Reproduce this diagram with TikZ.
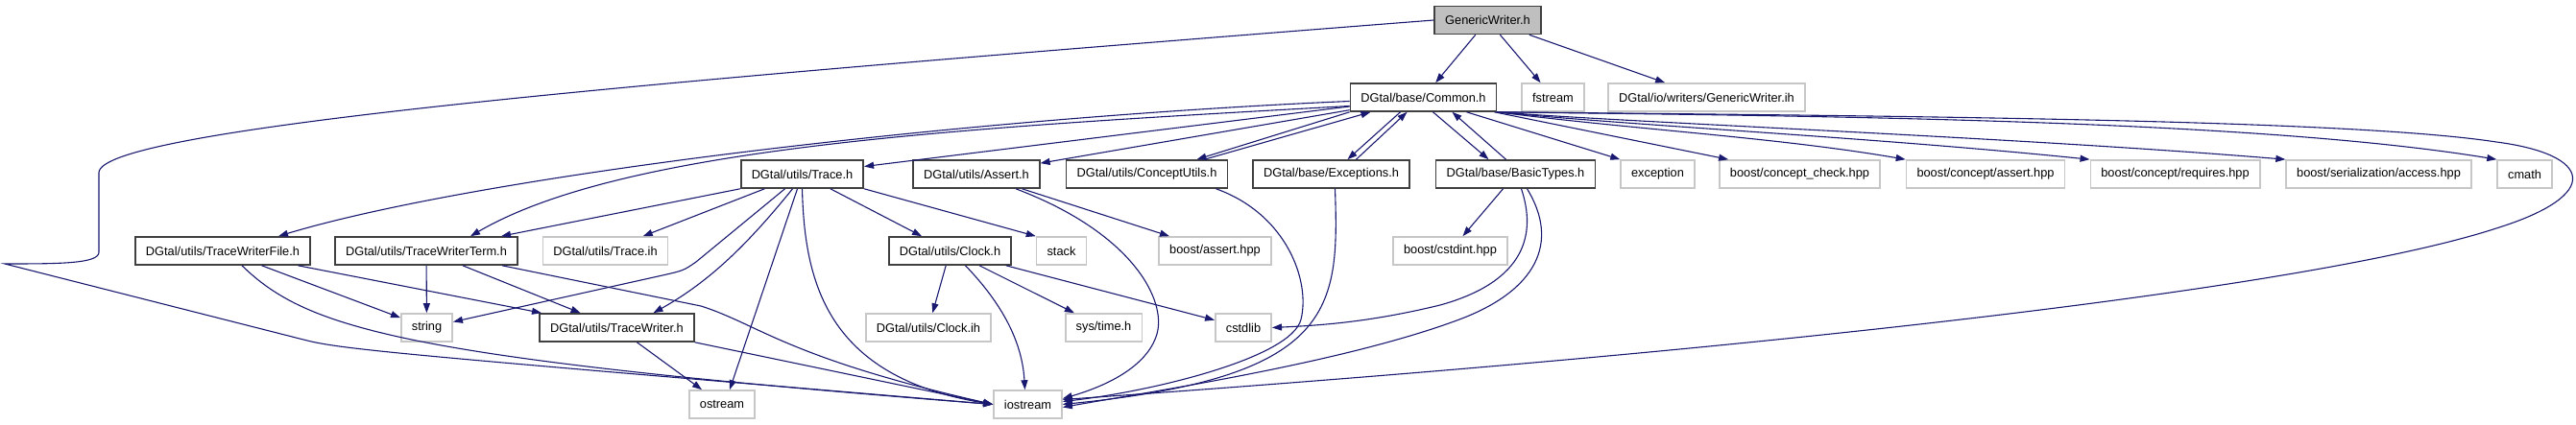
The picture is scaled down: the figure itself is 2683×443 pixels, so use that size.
\documentclass[tikz,border=0pt]{standalone}
\usepackage{fontspec}
\setmainfont{Liberation Sans}
\usepackage{tikz}
\usetikzlibrary{arrows.meta}
\definecolor{edgeblue}{HTML}{191970}
\newcommand{\IncTip}{Triangle[length=10pt,width=7pt]}
\tikzset{hbox/.style={draw=black!75,line width=1.6pt,fill=white,rectangle,minimum height=29pt,inner xsep=11pt,inner ysep=0pt,font=\fontsize{12.8}{15}\selectfont}}
\tikzset{sysbox/.style={hbox,draw=black!22}}
\tikzset{incl/.style={draw=edgeblue,line width=1.1pt,-{\IncTip}}}
\begin{document}
\begin{tikzpicture}[x=1pt,y=1pt]
\useasboundingbox(0,0)rectangle(2683,443);
\node(gw)[hbox,fill=black!25]at(1549.5,422){GenericWriter.h};
\node(common)[hbox]at(1482.5,341.5){DGtal/base/Common.h};\node(fstream)[sysbox]at(1617.5,341.5){fstream};
\node(gwih)[sysbox]at(1777.5,341.5){DGtal/io/writers/GenericWriter.ih};
\begin{scope}[every node/.append style={yshift=0pt}]
\node(trace)[hbox]at(835.5,261.5){DGtal/utils/Trace.h};\node(assert)[hbox]at(1017,261.5){DGtal/utils/Assert.h};
\node(concept)[hbox]at(1194.5,261.5){DGtal/utils/ConceptUtils.h};\node(except)[hbox]at(1386.5,261.5){DGtal/base/Exceptions.h};
\node(basic)[hbox]at(1578.5,261.5){DGtal/base/BasicTypes.h};\node(exception)[sysbox]at(1726.5,261.5){exception};
\node(ccheck)[sysbox]at(1874.5,261.5){boost/concept\_check.hpp};\node(cassert)[sysbox]at(2068,261.5){boost/concept/assert.hpp};
\node(creq)[sysbox]at(2265.5,261.5){boost/concept/requires.hpp};\node(access)[sysbox]at(2477.5,261.5){boost/serialization/access.hpp};
\node(cmath)[sysbox]at(2629.5,261.5){cmath};
\end{scope}
\node(twfile)[hbox]at(232,181.5){DGtal/utils/TraceWriterFile.h};\node(twterm)[hbox]at(444,181.5){DGtal/utils/TraceWriterTerm.h};
\node(traceih)[sysbox]at(630.5,181.5){DGtal/utils/Trace.ih};\node(clock)[hbox]at(989.5,181.5){DGtal/utils/Clock.h};
\node(stack)[sysbox]at(1105.5,181.5){stack};\node(bassert)[sysbox]at(1265.5,181.5){boost/assert.hpp};
\node(cstdint)[sysbox]at(1510.5,181.5){boost/cstdint.hpp};
\node(string)[sysbox]at(444.5,101.5){string};\node(tw)[hbox]at(642.5,101.5){DGtal/utils/TraceWriter.h};
\node(clockih)[sysbox]at(967,101.5){DGtal/utils/Clock.ih};\node(systime)[sysbox]at(1149.5,101.5){sys/time.h};
\node(cstdlib)[sysbox]at(1295,101.5){cstdlib};
\node(ostream)[sysbox]at(752,21.5){ostream};\node(iostream)[sysbox]at(1070.5,21.5){iostream};
% GenericWriter.h
\draw[incl](gw)--(common);\draw[incl](gw)--(fstream);\draw[incl](gw)--(gwih);
\draw[incl](gw.west)..controls(700,360)and(103,310)..(103,263)--(103,180)..controls(103,168)and(60,168)..(5,168)--(320,88)..controls(360,78)and(450,71)..(iostream.west);
% Common.h
\draw[incl]([yshift=-4pt]common.west)..controls(1000,320)and(500,260)..([xshift=58pt]twfile.north);
\draw[incl]([yshift=-9pt]common.west)..controls(1000,310)and(650,290)..([xshift=46pt]twterm.north);
\draw[incl](common)--(trace);\draw[incl](common)--(assert);
\draw[incl](common.south west)--([xshift=52pt]concept.north);\draw[incl]([xshift=60pt]concept.north)--([xshift=-55pt]common.south);
\draw[incl]([xshift=-24pt]common.south)--([xshift=17pt]except.north);\draw[incl]([xshift=26pt]except.north)--([xshift=-17pt]common.south);
\draw[incl]([xshift=10pt]common.south)--([xshift=-28pt]basic.north);\draw[incl]([xshift=-10pt]basic.north)--([xshift=30pt]common.south);
\draw[incl]([xshift=45pt]common.south)--(exception.north west);
\draw[incl]([xshift=-3pt]common.south east)--([xshift=10pt]ccheck.north west);
\draw[incl](common.south east)..controls(1700,308)and(1850,300)..(cassert.north west);
\draw[incl](common.south east)..controls(1700,312)and(1950,300)..(creq.north west);
\draw[incl](common.south east)..controls(1700,315)and(2100,300)..(access.north west);
\draw[incl](common.south east)..controls(1900,322)and(2350,318)..(cmath.north west);
\draw[incl](common.south east)..controls(2000,322)and(2450,318)..(2600,295)..controls(2700,282)and(2712,240)..(2600,205)..controls(2400,140)and(1800,75)..([yshift=5pt]iostream.east);
% Trace.h
\draw[incl](trace.south west)--([xshift=78pt]twterm.north);\draw[incl](trace)--(traceih);
\draw[incl]([xshift=-18pt]trace.south)--(725,170)..controls(712,161)..(690,156)--([yshift=6pt]string.east);
\draw[incl]([xshift=-10pt]trace.south)..controls(780,190)and(740,150)..([xshift=38pt]tw.north);
\draw[incl]([xshift=-5pt]trace.south)--([xshift=8pt]ostream.north);
\draw[incl](trace.south)..controls(838,150)and(860,50)..(iostream.west);
\draw[incl](trace)--(clock);\draw[incl](trace.south east)--(stack.north west);
% writers
\draw[incl](twfile)--(string);\draw[incl](twfile)--(tw);
\draw[incl]([xshift=20pt]twfile.south)..controls(320,100)and(420,70)..(iostream.west);
\draw[incl](twterm)--(string);\draw[incl](twterm)--(tw);
\draw[incl]([xshift=79pt]twterm.south)--(730,124)..controls(790,105)and(820,70)..(iostream.west);
\draw[incl](tw)--(ostream);\draw[incl](tw.south east)--(iostream.west);
% Clock.h
\draw[incl](clock)--(clockih);\draw[incl](clock)--(systime);\draw[incl](clock)--(cstdlib);
\draw[incl]([xshift=16pt]clock.south)..controls(1050,120)and(1065,80)..([xshift=-3pt]iostream.north);
% the rest
\draw[incl](assert)--(bassert);
\draw[incl]([xshift=41pt]assert.south)..controls(1180,200)and(1215,130)..(1205,95)..controls(1195,60)and(1150,40)..([yshift=6pt]iostream.east);
\draw[incl]([xshift=72pt]concept.south)..controls(1340,220)and(1365,150)..(1355,110)..controls(1345,70)and(1200,35)..([yshift=3pt]iostream.east);
\draw[incl]([xshift=4pt]except.south)..controls(1395,120)and(1390,50)..(iostream.east);
\draw[incl](basic)--(cstdint);
\draw[incl]([xshift=6pt]basic.south)..controls(1600,200)and(1590,150)..(1500,125)..controls(1430,108)and(1380,104)..(cstdlib.east);
\draw[incl]([xshift=12pt]basic.south)..controls(1625,190)and(1600,140)..(1520,110)..controls(1400,65)and(1200,35)..([yshift=-3pt]iostream.east);
\end{tikzpicture}
\end{document}
